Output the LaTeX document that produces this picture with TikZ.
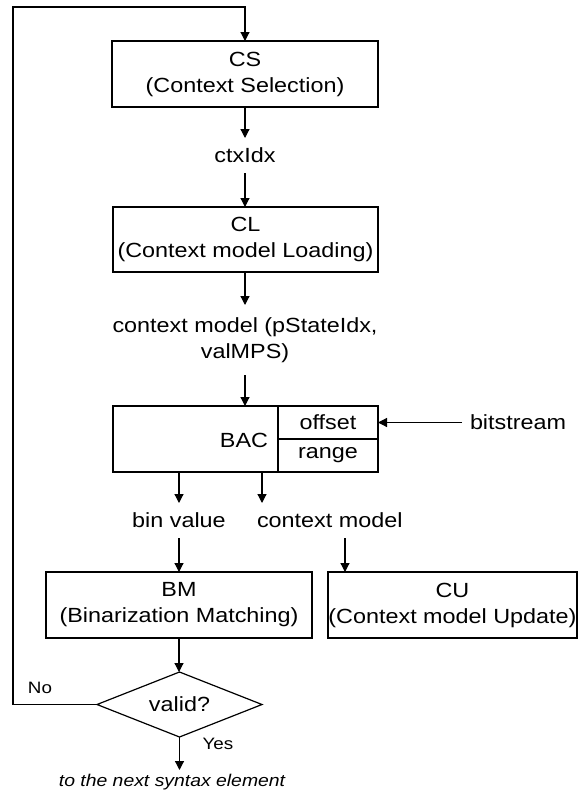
\documentclass[tikz,border=0pt]{standalone}
\usepackage{fontspec}
\setmainfont{Liberation Sans}[FakeStretch=1.14]
\usetikzlibrary{arrows.meta,shapes.geometric}
\begin{document}
\begin{tikzpicture}[x=1pt,y=-1pt,
  every node/.style={inner sep=0pt, outer sep=0pt, font=\fontsize{20.5}{26}\selectfont},
  box/.style={draw, line width=1.2pt, align=center},
  lbl/.style={align=center},
  small/.style={font=\fontsize{16.5}{20}\selectfont},
  arr/.style={line width=1.2pt, -{Triangle[length=9pt,width=9pt]}},
  ln/.style={line width=1.2pt}]
\useasboundingbox (0,0) rectangle (584,798);
\fill[white] (0,0) rectangle (584,798);

\node[box, minimum width=266pt, minimum height=66pt] (cs) at (245,74) {CS\\(Context Selection)};
\node[lbl, minimum height=35pt] (ctx) at (245,155.5) {ctxIdx};
\node[box, minimum width=265pt, minimum height=65pt] (cl) at (245.5,239.5) {CL\\(Context model Loading)};
\node[lbl, minimum height=70pt] (cm) at (245,340) {context model (pStateIdx,\\valMPS)};
\node[box, minimum width=265pt, minimum height=66pt] (bac) at (245.5,439) {};
\node[anchor=east] (bactxt) at (268,440) {BAC};
\node[box, minimum width=100pt, minimum height=33pt] (offset) at (328,422.5) {offset};
\node[box, minimum width=100pt, minimum height=33pt] (range) at (328,455.5) {range};
\node[anchor=west, inner xsep=8pt] (bits) at (462,422.5) {bitstream};
\node[lbl, minimum height=35pt] (binv) at (179,520.5) {bin value};
\node[lbl, anchor=west, minimum height=35pt] (cml) at (257,520.5) {context model};
\coordinate (cmx) at (262,472);
\coordinate (cux) at (345,538);
\node[box, minimum width=266pt, minimum height=66pt] (bm) at (179,605) {BM\\(Binarization Matching)};
\node[box, minimum width=249pt, minimum height=66pt] (cu) at (452.5,605) {CU\\(Context model Update)};
\node[draw, line width=1.2pt, diamond, aspect=2.5, minimum width=165pt, minimum height=65pt] (dia) at (179.5,704.5) {valid?};
\node[small] (no) at (40,688) {No};
\node[small] (yes) at (218,744) {Yes};
\node[font=\fontsize{17}{20}\selectfont\itshape, anchor=north, inner ysep=4pt] (next) at (172,770) {to the next syntax element};
\coordinate (lp) at (13,7);

\draw[arr] (cs.south) -- (ctx.north);
\draw[arr] (ctx.south) -- (ctx.south |- cl.north);
\draw[arr] (cl.south -| ctx.south) -- (cm.north);
\draw[arr] (cm.south) -- (cm.south |- bac.north);
\draw[arr] (bits.west) -- (offset.east);
\draw[arr] (bac.south -| binv.north) -- (binv.north);
\draw[arr] (cmx) -- (cmx |- cml.north);
\draw[arr] (binv.south) -- (binv.south |- bm.north);
\draw[arr] (cux |- cml.south) -- (cux |- cu.north);
\draw[arr] (bm.south) -- (bm.south |- dia.north);
\draw[arr] (dia.west) -| (lp) -| (cs.north);
\draw[arr] (dia.south) -- (dia.south |- next.north);
\end{tikzpicture}
\end{document}
